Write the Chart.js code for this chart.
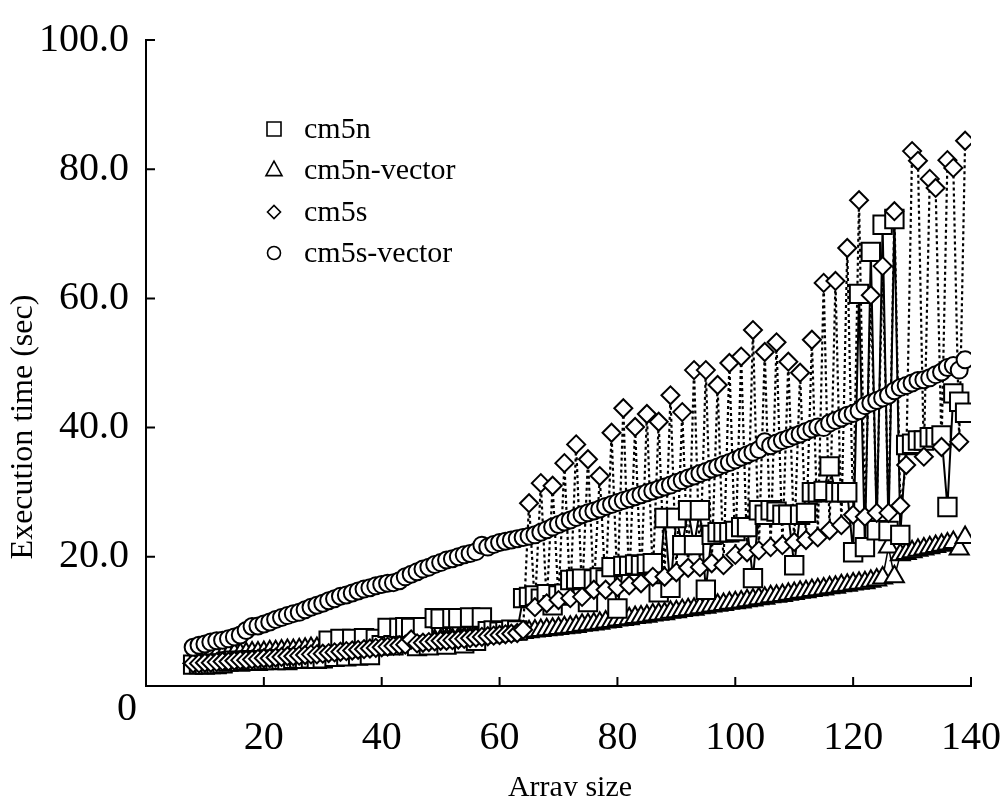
<!DOCTYPE html>
<html>
<head>
<meta charset="utf-8">
<script src="https://cdn.jsdelivr.net/npm/chart.js@4.4.0/dist/chart.umd.min.js"></script>
<style>
  html, body { margin: 0; padding: 0; background: #fff; }
  #wrap { width: 1007px; height: 796px; }
</style>
</head>
<body>
<div id="wrap"><canvas id="chart" width="1007" height="796"></canvas></div>
<script>
// array sizes (x)
const arraySizes = [
  8, 9, 10, 11, 12, 13, 14, 15, 16, 17,
  18, 19, 20, 21, 22, 23, 24, 25, 26, 27,
  28, 29, 30, 31, 32, 33, 34, 35, 36, 37,
  38, 39, 40, 41, 42, 43, 44, 45, 46, 47,
  48, 49, 50, 51, 52, 53, 54, 55, 56, 57,
  58, 59, 60, 61, 62, 63, 64, 65, 66, 67,
  68, 69, 70, 71, 72, 73, 74, 75, 76, 77,
  78, 79, 80, 81, 82, 83, 84, 85, 86, 87,
  88, 89, 90, 91, 92, 93, 94, 95, 96, 97,
  98, 99, 100, 101, 102, 103, 104, 105, 106, 107,
  108, 109, 110, 111, 112, 113, 114, 115, 116, 117,
  118, 119, 120, 121, 122, 123, 124, 125, 126, 127,
  128, 129, 130, 131, 132, 133, 134, 135, 136, 137,
  138, 139
];

// execution times (sec)
const cm5n = [
  3.3, 3.4, 3.3, 3.4, 3.4, 3.5, 3.8, 3.9, 3.8, 3.9,
  4.0, 3.9, 4.0, 4.1, 4.0, 4.1, 4.0, 4.2, 4.3, 4.2,
  4.3, 4.2, 4.3, 7.0, 4.5, 7.3, 4.6, 7.3, 4.7, 7.4,
  4.8, 7.3, 6.3, 9.0, 6.3, 9.0, 9.1, 9.0, 6.2, 9.1,
  6.3, 10.5, 10.4, 6.4, 10.5, 10.5, 6.6, 10.6, 7.0, 10.6,
  8.5, 8.6, 8.4, 8.5, 8.7, 8.6, 13.6, 13.8, 14.0, 13.5,
  14.2, 12.5, 14.0, 14.3, 16.4, 16.5, 16.6, 13.0, 16.5, 16.8,
  16.5, 18.4, 12.0, 18.6, 18.6, 18.8, 18.7, 18.9, 19.0, 14.5,
  26.0, 15.2, 26.0, 21.8, 27.2, 21.8, 27.2, 14.9, 23.4, 23.8,
  23.8, 23.8, 24.0, 24.6, 24.6, 16.7, 27.2, 26.5, 27.2, 27.0,
  26.5, 26.5, 18.7, 26.5, 26.8, 30.0, 30.0, 30.2, 34.0, 30.0,
  30.0, 30.0, 20.7, 60.7, 21.5, 67.2, 24.1, 71.4, 24.0, 72.3,
  23.4, 37.3, 37.5, 38.0, 38.0, 38.5, 38.5, 38.8, 27.7, 45.3,
  44.0, 42.3
];

const cm5nVector = [
  4.4, 4.5, 4.5, 4.6, 4.7, 4.7, 4.8, 4.9, 4.9, 5.0,
  5.1, 5.1, 5.2, 5.3, 5.3, 5.4, 5.5, 5.5, 5.6, 5.7,
  5.8, 5.8, 5.9, 6.0, 6.0, 6.1, 6.1, 6.2, 6.2, 6.3,
  6.3, 6.4, 6.4, 6.5, 6.6, 6.6, 6.7, 6.8, 6.8, 6.9,
  7.0, 7.0, 7.1, 7.2, 7.2, 7.3, 7.4, 7.4, 7.5, 7.6,
  7.6, 7.7, 7.8, 7.9, 8.0, 8.1, 8.3, 8.4, 8.5, 8.6,
  8.7, 8.8, 8.9, 9.0, 9.1, 9.2, 9.4, 9.5, 9.6, 9.7,
  9.9, 10.0, 10.2, 10.3, 10.4, 10.6, 10.7, 10.8, 11.0, 11.1,
  11.2, 11.4, 11.5, 11.7, 11.8, 11.9, 12.1, 12.2, 12.4, 12.5,
  12.6, 12.8, 12.9, 13.0, 13.2, 13.3, 13.5, 13.6, 13.8, 13.9,
  14.0, 14.2, 14.3, 14.5, 14.6, 14.8, 14.9, 15.0, 15.2, 15.3,
  15.5, 15.6, 15.8, 15.9, 16.0, 16.2, 16.4, 16.7, 21.5, 16.9,
  20.3, 20.5, 20.8, 21.0, 21.2, 21.4, 21.6, 21.8, 22.0, 22.2,
  21.2, 23.0
];

const cm5s = [
  3.5, 3.5, 3.6, 3.6, 3.7, 3.8, 3.8, 3.9, 4.0, 4.0,
  4.1, 4.2, 4.3, 4.3, 4.4, 4.5, 4.6, 4.6, 4.7, 4.8,
  4.9, 4.9, 5.0, 5.1, 5.2, 5.3, 5.4, 5.5, 5.6, 5.7,
  5.8, 5.9, 6.0, 6.1, 6.2, 6.3, 6.4, 7.2, 6.6, 6.7,
  6.8, 6.9, 7.0, 7.0, 7.1, 7.2, 7.3, 7.4, 7.5, 7.6,
  7.7, 7.8, 7.9, 8.0, 8.1, 8.2, 8.7, 28.3, 12.2, 31.4,
  12.8, 31.0, 13.3, 34.5, 13.6, 37.4, 13.8, 35.1, 14.9, 32.5,
  14.9, 39.2, 15.3, 43.0, 15.6, 40.1, 15.9, 42.1, 16.9, 40.9,
  16.9, 45.0, 17.6, 42.4, 18.3, 48.9, 18.4, 48.9, 19.0, 46.6,
  18.7, 50.0, 20.3, 51.0, 20.7, 55.1, 21.0, 51.7, 21.5, 53.2,
  21.8, 50.2, 22.3, 48.5, 22.6, 53.6, 23.0, 62.4, 24.1, 62.7,
  24.9, 67.8, 26.5, 75.2, 26.2, 60.5, 26.8, 65.0, 26.8, 73.5,
  27.9, 34.2, 82.8, 81.3, 35.5, 78.5, 77.1, 37.0, 81.4, 80.2,
  37.8, 84.4
];

const cm5sVector = [
  6.0, 6.3, 6.5, 6.8, 7.0, 7.1, 7.3, 7.6, 7.9, 8.6,
  9.2, 9.3, 9.6, 9.9, 10.3, 10.6, 10.9, 11.2, 11.4, 11.8,
  12.2, 12.5, 12.8, 13.2, 13.5, 13.9, 14.1, 14.4, 14.7, 15.0,
  15.2, 15.5, 15.7, 15.9, 16.0, 16.3, 16.9, 17.3, 17.7, 18.1,
  18.4, 18.8, 19.1, 19.5, 19.7, 20.0, 20.3, 20.5, 20.8, 21.8,
  21.5, 21.9, 22.2, 22.4, 22.6, 22.8, 23.0, 23.2, 23.4, 23.8,
  24.2, 24.6, 25.0, 25.4, 25.7, 26.1, 26.5, 26.8, 27.1, 27.4,
  27.8, 28.1, 28.4, 28.7, 29.0, 29.3, 29.6, 29.9, 30.2, 30.5,
  30.8, 31.1, 31.5, 31.8, 32.2, 32.5, 32.9, 33.2, 33.6, 33.9,
  34.3, 34.6, 35.0, 35.4, 35.8, 36.2, 36.6, 37.8, 37.2, 37.6,
  38.0, 38.3, 38.7, 39.0, 39.4, 39.8, 40.1, 40.0, 40.7, 41.1,
  41.5, 41.9, 42.2, 42.6, 43.4, 43.8, 44.2, 44.6, 45.0, 45.7,
  46.2, 46.5, 46.9, 47.3, 47.4, 47.7, 48.2, 48.6, 49.3, 49.6,
  48.9, 50.5
];

const xTicks = [20, 40, 60, 80, 100, 120, 140];
const yTicks = [20, 40, 60, 80, 100];
const seriesNames = ["cm5n", "cm5n-vector", "cm5s", "cm5s-vector"];

const SERIF = '"Liberation Serif", "DejaVu Serif", serif';

function toPoints(vals) {
  return arraySizes.map(function (x, i) { return { x: x, y: vals[i] }; });
}

//line only dataset
function lineSet(vals, dash, width, order) {
  return {
    data: toPoints(vals),
    borderColor: "#000",
    borderWidth: width,
    borderDash: dash,
    pointRadius: 0,
    fill: false,
    tension: 0,
    order: order,
  };
}

//marker only dataset
function markSet(vals, style, radius, order) {
  return {
    data: toPoints(vals),
    showLine: false,
    pointStyle: style,
    pointRadius: radius,
    pointBorderWidth: 2,
    pointBorderColor: "#000",
    pointBackgroundColor: "#fff",
    order: order,
  };
}

// draws the marker shapes for the legend
function drawMarker(ctx, style, x, y, r) {
  ctx.beginPath();
  if (style == "rect") {
    ctx.rect(x - r, y - r, 2 * r, 2 * r);
  } else if (style == "triangle") {
    ctx.moveTo(x, y - r * 1.1);
    ctx.lineTo(x + r, y + r * 0.7);
    ctx.lineTo(x - r, y + r * 0.7);
    ctx.closePath();
  } else if (style == "rectRot") {
    ctx.moveTo(x - r, y);
    ctx.lineTo(x, y - r);
    ctx.lineTo(x + r, y);
    ctx.lineTo(x, y + r);
    ctx.closePath();
  } else {
    ctx.arc(x, y, r, 0, Math.PI * 2);
  }
  ctx.fill();
  ctx.stroke();
}

const decorPlugin = {
  id: "decor",
  afterDraw: function (chart) {
    const ctx = chart.ctx;
    const xs = chart.scales.x;
    const ys = chart.scales.y;
    const area = chart.chartArea;
    ctx.save();
    ctx.strokeStyle = "#000";
    ctx.lineWidth = 2;
    ctx.beginPath();
    xTicks.forEach(function (v) {
      const px = xs.getPixelForValue(v);
      ctx.moveTo(px, area.bottom);
      ctx.lineTo(px, area.bottom - 9);
    });
    yTicks.forEach(function (v) {
      const py = ys.getPixelForValue(v);
      ctx.moveTo(area.left, py);
      ctx.lineTo(area.left + 9, py);
    });
    ctx.stroke();

    ctx.fillStyle = "#000";
    ctx.font = "40px " + SERIF;
    ctx.textAlign = "right";
    ctx.textBaseline = "middle";
    ctx.fillText("0", area.left - 9, ys.getPixelForValue(0) + 23);

    // axis titles
    ctx.font = "30px " + SERIF;
    ctx.textAlign = "center";
    ctx.fillText("Array size", 570, 788);
    ctx.save();
    ctx.translate(24, 427);
    ctx.rotate(-Math.PI / 2);
    ctx.font = "32px " + SERIF;
    ctx.fillText("Execution time (sec)", 0, 0);
    ctx.restore();

    // legend
    const styles = ["rect", "triangle", "rectRot", "circle"];
    const sizes = [7, 8, 6.5, 6.5];
    const rows = [129, 170, 212, 253];
    ctx.lineWidth = 1.6;
    ctx.font = "30px " + SERIF;
    ctx.textAlign = "left";
    seriesNames.forEach(function (name, i) {
      ctx.fillStyle = "#fff";
      drawMarker(ctx, styles[i], 274, rows[i], sizes[i]);
      ctx.fillStyle = "#000";
      ctx.fillText(name, 304, rows[i] + 1);
    });
    ctx.restore();
  },
};

new Chart(document.getElementById("chart"), {
  type: "line",
  data: {
    datasets: [
      lineSet(cm5nVector, [], 1.5, 13),
      lineSet(cm5n, [], 2, 12),
      lineSet(cm5s, [3, 3], 2.2, 11),
      lineSet(cm5sVector, [], 1.5, 10),
      markSet(cm5nVector, "triangle", 11, 4),
      markSet(cm5n, "rect", 13, 3),
      markSet(cm5s, "rectRot", 9, 2),
      markSet(cm5sVector, "circle", 8.5, 1),
    ],
  },
  options: {
    responsive: false,
    animation: false,
    layout: { padding: { left: 0, right: 36, top: 40, bottom: 0 } },
    plugins: {
      legend: { display: false },
      tooltip: { enabled: false },
    },
    scales: {
      x: {
        type: "linear",
        min: 0,
        max: 140,
        grid: { display: false },
        border: { display: true, color: "#000", width: 2 },
        afterFit: function (scale) {
          scale.height = 110;
          scale.paddingLeft = 0;
          scale.paddingRight = 0;
        },
        ticks: {
          stepSize: 20,
          autoSkip: false,
          maxRotation: 0,
          padding: 20,
          color: "#000",
          font: { family: SERIF, size: 40 },
          callback: function (v) { return v === 0 ? "" : v; },
        },
      },
      y: {
        min: 0,
        max: 100,
        grid: { display: false },
        border: { display: true, color: "#000", width: 2 },
        afterFit: function (scale) { scale.width = 146; },
        ticks: {
          stepSize: 20,
          padding: 9,
          color: "#000",
          font: { family: SERIF, size: 40 },
          callback: function (v) { return v === 0 ? "" : v.toFixed(1); },
        },
      },
    },
  },
  plugins: [decorPlugin],
});
</script>
</body>
</html>
